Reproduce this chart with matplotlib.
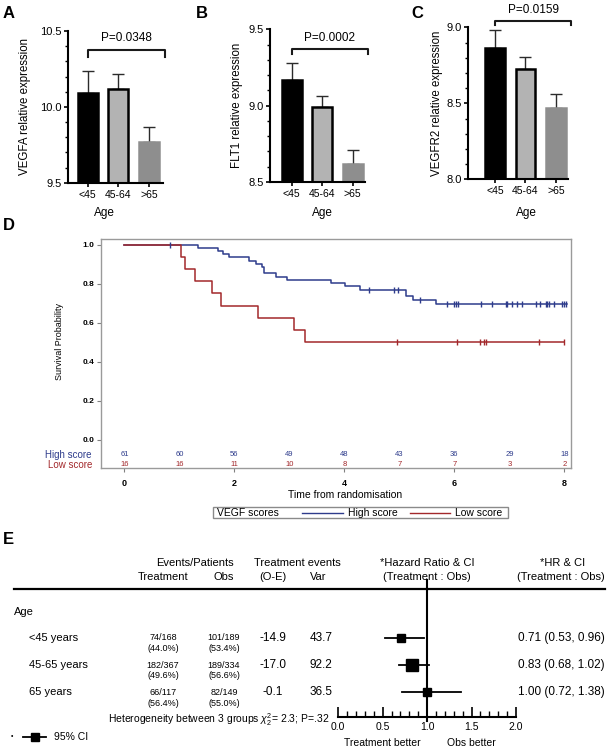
import numpy as np
import matplotlib
matplotlib.use('Agg')
import matplotlib.pyplot as plt
from matplotlib.patches import Rectangle
from matplotlib.ticker import MultipleLocator

plt.rcParams['font.family'] = ['Liberation Sans', 'DejaVu Sans']
plt.rcParams['mathtext.fontset'] = 'custom'
plt.rcParams['mathtext.rm'] = 'Liberation Sans'
plt.rcParams['mathtext.it'] = 'Liberation Sans:italic'

# ---------------- data ----------------
age_groups = ['<45', '45-64', '>65']
vegfa_mean = [10.09, 10.115, 9.765]
vegfa_err = [0.145, 0.10, 0.10]
flt1_mean = [9.166, 8.993, 8.62]
flt1_err = [0.115, 0.073, 0.09]
vegfr2_mean = [8.866, 8.728, 8.471]
vegfr2_err = [0.118, 0.079, 0.088]
p_values = ['P=0.0348', 'P=0.0002', 'P=0.0159']

# Kaplan-Meier (VEGF scores)
high_times = [0, 1.33, 1.71, 1.80, 1.91, 2.27, 2.40, 2.50, 2.53, 2.75, 2.95,
              3.75, 4.02, 4.29, 5.12, 5.25, 5.66, 8.04]
high_surv = [1.0, 0.984, 0.967, 0.951, 0.934, 0.918, 0.902, 0.885, 0.852,
             0.836, 0.820, 0.803, 0.787, 0.770, 0.736, 0.718, 0.697, 0.697]
high_censor = [0.83, 4.45, 4.91, 4.98, 5.38, 5.86, 6.0, 6.03, 6.06, 6.48, 6.68,
               6.93, 6.96, 7.05, 7.14, 7.23, 7.48, 7.55, 7.66, 7.69, 7.72,
               7.81, 7.95, 7.99, 8.03]
low_times = [0, 1.03, 1.10, 1.28, 1.59, 1.75, 2.43, 3.09, 3.28, 8.0]
low_surv = [1.0, 0.9375, 0.875, 0.8125, 0.75, 0.6875, 0.625, 0.5625, 0.5, 0.5]
low_censor = [4.95, 6.04, 6.46, 6.54, 6.57, 7.54, 8.0]
risk_times = [0, 1, 2, 3, 4, 5, 6, 7, 8]
high_risk = [61, 60, 56, 49, 48, 43, 36, 29, 18]
low_risk = [16, 16, 11, 10, 8, 7, 7, 3, 2]

# Forest plot
subgroups = ['<45 years', '45-65 years', '65 years']
trt_events = ['74/168', '182/367', '66/117']
trt_pct = ['(44.0%)', '(49.6%)', '(56.4%)']
obs_events = ['101/189', '189/334', '82/149']
obs_pct = ['(53.4%)', '(56.6%)', '(55.0%)']
o_minus_e = ['-14.9', '-17.0', '-0.1']
variance = [43.7, 92.2, 36.5]
hr = [0.71, 0.83, 1.00]
hr_lo = [0.53, 0.68, 0.72]
hr_hi = [0.96, 1.02, 1.38]

# ---------------- figure ----------------
W, H = 609, 750
fig = plt.figure(figsize=(W / 100, H / 100), dpi=100)

def add_ax(l, t, r, b):
    return fig.add_axes([l / W, 1 - b / H, (r - l) / W, (b - t) / H])

# background axes in pixel units for free text
bg = fig.add_axes([0, 0, 1, 1])
bg.set_xlim(0, W); bg.set_ylim(H, 0); bg.axis('off')

blue = '#2e3c8c'
red = '#a3282b'
bar_cols = ['#000000', '#b3b3b3', '#8e8e8e']
bar_edges = ['#000000', '#000000', '#8e8e8e']

# ---------------- A, B, C ----------------
panels = [
    dict(box=(67.7, 31, 163, 182.7), means=vegfa_mean, errs=vegfa_err, lim=(9.5, 10.5),
         xl=-0.647, xr=2.45, ylabel='VEGFA relative expression', p=p_values[0],
         by=10.375, bt=10.33, ty=10.456, lab='A', labx=3, agex=104, ylx=25),
    dict(box=(269.7, 29.3, 365, 182), means=flt1_mean, errs=flt1_err, lim=(8.5, 9.5),
         xl=-0.72, xr=2.4, ylabel='FLT1 relative expression', p=p_values[1],
         by=9.369, bt=9.336, ty=9.44, lab='B', labx=196, agex=322, ylx=237),
    dict(box=(468.3, 27.3, 568, 179.3), means=vegfr2_mean, errs=vegfr2_err, lim=(8.0, 9.0),
         xl=-0.88, xr=2.4, ylabel='VEGFR2 relative expression', p=p_values[2],
         by=9.043, bt=9.013, ty=9.114, lab='C', labx=411, agex=526, ylx=437),
]
for pnl in panels:
    ax = add_ax(*pnl['box'])
    x = np.arange(len(age_groups))
    for i in range(len(x)):
        ax.bar(x[i], pnl['means'][i] - pnl['lim'][0], bottom=pnl['lim'][0], width=0.65,
               color=bar_cols[i], edgecolor=bar_edges[i], linewidth=1.8, zorder=2)
        ax.errorbar(x[i], pnl['means'][i], yerr=[[0], [pnl['errs'][i]]], fmt='none',
                    ecolor='#2b2b2b', elinewidth=1.0, capsize=4, capthick=1.0, zorder=1)
    ax.set_xlim(pnl['xl'], pnl['xr'])
    ax.set_ylim(*pnl['lim'])
    ax.set_yticks([pnl['lim'][0], pnl['lim'][0] + 0.5, pnl['lim'][1]])
    ax.yaxis.set_minor_locator(MultipleLocator(0.1))
    ax.set_xticks(x)
    ax.set_xticklabels(age_groups, fontsize=7.5)
    ax.tick_params(axis='y', labelsize=8, length=3, width=1.2, pad=1.5)
    ax.tick_params(axis='y', which='minor', length=2, width=1)
    ax.tick_params(axis='x', length=3, width=1.2, pad=2)
    for s in ['top', 'right']:
        ax.spines[s].set_visible(False)
    for s in ['left', 'bottom']:
        ax.spines[s].set_linewidth(1.5)
    # significance bracket
    ax.plot([0, 0, 2.5, 2.5], [pnl['bt'], pnl['by'], pnl['by'], pnl['bt']],
            color='#1a1a1a', linewidth=1.5, clip_on=False)
    ax.text(1.25, pnl['ty'], pnl['p'], ha='center', va='center', fontsize=8.5)
    bg.text(pnl['ylx'], (pnl['box'][1] + pnl['box'][3]) / 2, pnl['ylabel'],
            rotation=90, ha='center', va='center', fontsize=8.3)
    bg.text(pnl['agex'], 212.7, 'Age', ha='center', va='center', fontsize=8.5)
    bg.text(pnl['labx'], 13, pnl['lab'], ha='left', va='center', fontsize=12,
            fontweight='bold')

# ---------------- D: Kaplan-Meier ----------------
bg.text(3, 226, 'D', ha='left', va='center', fontsize=12, fontweight='bold')
axk = add_ax(101.3, 239.3, 571, 467.7)
axk.set_xlim(-0.42, 8.12)
axk.set_ylim(-0.142, 1.027)
axk.step(high_times, high_surv, where='post', color=blue, linewidth=1.1, zorder=2)
axk.step(low_times, low_surv, where='post', color=red, linewidth=1.1, zorder=3)
hc = np.array(high_times); lc = np.array(low_times)
high_cs = [high_surv[np.searchsorted(hc, t, side='right') - 1] for t in high_censor]
low_cs = [low_surv[np.searchsorted(lc, t, side='right') - 1] for t in low_censor]
axk.plot(high_censor, high_cs, linestyle='none', marker='|', markersize=4,
         markeredgewidth=1.0, color=blue, zorder=4)
axk.plot(low_censor, low_cs, linestyle='none', marker='|', markersize=4,
         markeredgewidth=1.0, color=red, zorder=4)
for t, n in zip(risk_times, high_risk):
    axk.text(t, -0.075, str(n), ha='center', va='center', fontsize=5.5, color=blue)
for t, n in zip(risk_times, low_risk):
    axk.text(t, -0.126, str(n), ha='center', va='center', fontsize=5.5, color=red)
axk.text(-0.59, -0.075, 'High score', ha='right', va='center', fontsize=7,
         color=blue, clip_on=False)
axk.text(-0.59, -0.126, 'Low score', ha='right', va='center', fontsize=7,
         color=red, clip_on=False)
axk.set_yticks([0, 0.2, 0.4, 0.6, 0.8, 1.0])
axk.set_yticklabels(['0.0', '0.2', '0.4', '0.6', '0.8', '1.0'], fontsize=6,
                    fontweight='bold')
axk.set_xticks([0, 2, 4, 6, 8])
axk.set_xticklabels(['0', '2', '4', '6', '8'], fontsize=6.5, fontweight='bold')
axk.tick_params(length=3, width=0.8, color='#808080', pad=2)
axk.tick_params(axis='x', pad=5)
for s in axk.spines.values():
    s.set_color('#9a9a9a'); s.set_linewidth(1.0)
bg.text(59, 341, 'Survival Probability', rotation=90, ha='center', va='center',
        fontsize=6.5)
bg.text(345, 494.7, 'Time from randomisation', ha='center', va='center', fontsize=7.5)
# legend box
bg.add_patch(Rectangle((212.6, 506.7), 295.4, 11.6, facecolor='white',
                       edgecolor='#8a8a8a', linewidth=1.0))
bg.text(217, 512.5, 'VEGF scores', ha='left', va='center', fontsize=7.5)
bg.plot([302, 343], [512.5, 512.5], color=blue, linewidth=1.0)
bg.text(348, 512.5, 'High score', ha='left', va='center', fontsize=7.5)
bg.plot([410, 450], [512.5, 512.5], color=red, linewidth=1.0)
bg.text(455, 512.5, 'Low score', ha='left', va='center', fontsize=7.5)

# ---------------- E: forest table ----------------
bg.text(3, 540, 'E', ha='left', va='center', fontsize=12, fontweight='bold')
hdr = 8
bg.text(194.5, 563.3, 'Events/Patients', ha='center', va='center', fontsize=hdr)
bg.text(163, 577.3, 'Treatment', ha='center', va='center', fontsize=hdr)
bg.text(224, 577.3, 'Obs', ha='center', va='center', fontsize=hdr)
bg.text(297.7, 563.3, 'Treatment events', ha='center', va='center', fontsize=hdr)
bg.text(272.5, 577.3, '(O-E)', ha='center', va='center', fontsize=hdr)
bg.text(317.8, 577.3, 'Var', ha='center', va='center', fontsize=hdr)
bg.text(427, 563.3, '*Hazard Ratio & CI', ha='center', va='center', fontsize=hdr)
bg.text(427, 577.3, '(Treatment : Obs)', ha='center', va='center', fontsize=hdr)
bg.text(562.5, 563.3, '*HR & CI', ha='center', va='center', fontsize=hdr)
bg.text(605, 577.3, '(Treatment : Obs)', ha='right', va='center', fontsize=hdr)
bg.plot([13.5, 605], [589.3, 589.3], color='black', linewidth=1.6)
bg.text(13.5, 611.7, 'Age', ha='left', va='center', fontsize=hdr)

row_y = [637.7 + 27.3 * i for i in range(len(subgroups))]
for i, y in enumerate(row_y):
    bg.text(29, y, subgroups[i], ha='left', va='center', fontsize=hdr)
    bg.text(163, y, trt_events[i], ha='center', va='center', fontsize=6.5)
    bg.text(163, y + 10.7, trt_pct[i], ha='center', va='center', fontsize=6.5)
    bg.text(224, y, obs_events[i], ha='center', va='center', fontsize=6.5)
    bg.text(224, y + 10.7, obs_pct[i], ha='center', va='center', fontsize=6.5)
    bg.text(272.5, y, o_minus_e[i], ha='center', va='center', fontsize=8.5)
    bg.text(321, y, '%.1f' % variance[i], ha='center', va='center', fontsize=8.5)
    bg.text(605, y, '%.2f (%.2f, %.2f)' % (hr[i], hr_lo[i], hr_hi[i]),
            ha='right', va='center', fontsize=8.5)

axf = add_ax(338.3, 580, 516, 716.7)
axf.set_xlim(0, 2)
axf.set_ylim(716.7, 580)
axf.patch.set_alpha(0)
for s in ['top', 'right', 'left']:
    axf.spines[s].set_visible(False)
axf.spines['bottom'].set_linewidth(1.5)
axf.set_yticks([])
axf.set_xticks([0, 0.5, 1.0, 1.5, 2.0])
axf.set_xticklabels(['0.0', '0.5', '1.0', '1.5', '2.0'], fontsize=7.5)
axf.xaxis.set_minor_locator(MultipleLocator(0.1))
axf.tick_params(axis='x', which='major', direction='in', length=7, width=1.2, pad=4)
axf.tick_params(axis='x', which='minor', direction='in', length=4, width=1.0)
axf.plot([1, 1], [580, 721], color='black', linewidth=1.5, clip_on=False)
for i, y in enumerate(row_y):
    axf.plot([hr_lo[i], hr_hi[i]], [y, y], color='black', linewidth=1.3)
    axf.plot(hr[i], y, marker='s', markersize=0.85 * np.sqrt(variance[i]),
             color='black', linestyle='none')
bg.text(329.4, 720, r'Heterogeneity between 3 groups $\chi^2_2$= 2.3; P=.32',
        ha='right', va='center', fontsize=7.5)
bg.text(382.7, 742.7, 'Treatment better', ha='center', va='center', fontsize=7.5)
bg.text(471.6, 742.7, 'Obs better', ha='center', va='center', fontsize=7.5)
bg.text(11.6, 736.7, '\u2022', ha='center', va='center', fontsize=5)
bg.plot([23, 46], [736.7, 736.7], color='black', linewidth=1.3)
bg.plot([35], [736.7], marker='s', markersize=5.5, color='black')
bg.text(54, 736.7, '95% CI', ha='left', va='center', fontsize=7.5)

fig.savefig('out.png', dpi=100)
